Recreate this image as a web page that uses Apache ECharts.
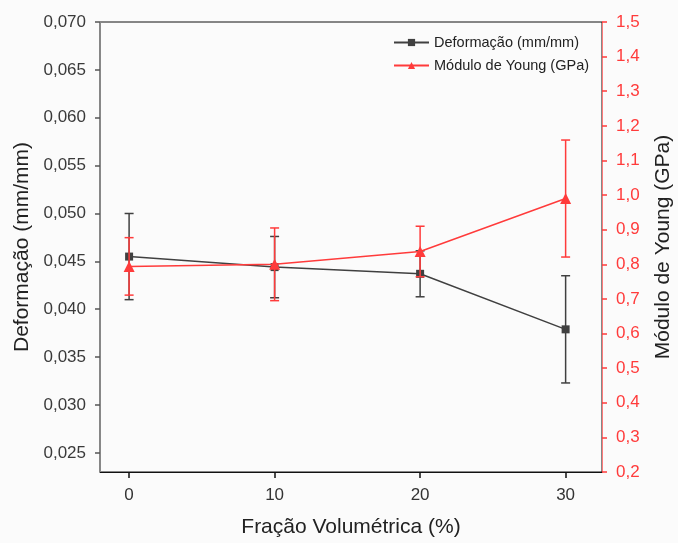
<!DOCTYPE html>
<html>
<head>
<meta charset="utf-8">
<script src="https://cdn.jsdelivr.net/npm/echarts@6/dist/echarts.min.js"></script>
<style>
  html, body { margin: 0; padding: 0; background: #fbfbfb; }
  #chart { width: 678px; height: 543px; }
</style>
</head>
<body>
<div id="chart"></div>
<script>
  let fracao = [0, 10, 20, 30];
  let deformacao = [0.0455, 0.0444, 0.0437, 0.0379];
  let deformacaoErr = [0.0045, 0.0032, 0.0024, 0.0056];
  let modulo = [0.794, 0.800, 0.837, 0.990];
  let moduloErr = [0.083, 0.105, 0.073, 0.169];
  let leftTicks = [0.025, 0.030, 0.035, 0.040, 0.045, 0.050, 0.055, 0.060, 0.065, 0.070];
  let xTicks = [0, 10, 20, 30];

  let black = '#404040';
  let red = '#ff3b3b';
  let font = 'Liberation Sans, Arial, sans-serif';

  function errorItem(color) {
    return function (params, api) {
      let x = api.value(0);
      let lo = api.coord([x, api.value(1)]);
      let hi = api.coord([x, api.value(2)]);
      let w = 4.5;
      let style = { stroke: color, lineWidth: 1.5 };
      return {
        type: 'group',
        children: [
          { type: 'line', shape: { x1: lo[0], y1: lo[1], x2: hi[0], y2: hi[1] }, style: style },
          { type: 'line', shape: { x1: lo[0] - w, y1: lo[1], x2: lo[0] + w, y2: lo[1] }, style: style },
          { type: 'line', shape: { x1: hi[0] - w, y1: hi[1], x2: hi[0] + w, y2: hi[1] }, style: style }
        ]
      };
    };
  }

  let chart = echarts.init(document.getElementById('chart'));
  let option = {
    backgroundColor: '#fbfbfb',
    animation: false,
    textStyle: { fontFamily: font },
    grid: {
      left: 100, right: 76, top: 22, bottom: 71,
      outerBoundsMode: 'none', containLabel: false,
      show: true, borderColor: '#111', borderWidth: 1
    },
    legend: {
      orient: 'vertical',
      left: 393, top: 35, padding: 0,
      itemWidth: 35, itemHeight: 9, itemGap: 8,
      textStyle: { fontSize: 14.5, color: '#222', fontFamily: font },
      data: ['Deformação (mm/mm)', 'Módulo de Young (GPa)']
    },
    xAxis: {
      type: 'value',
      min: -2, max: 32.5,
      name: 'Fração Volumétrica (%)',
      nameLocation: 'middle', nameGap: 45,
      nameTextStyle: { fontSize: 21, color: '#222' },
      axisLine: { onZero: false, lineStyle: { color: '#111' } },
      axisTick: { customValues: xTicks, length: 6, lineStyle: { color: '#111', width: 1.5 } },
      axisLabel: { customValues: xTicks, margin: 15, fontSize: 17, color: '#333' },
      splitLine: { show: false }
    },
    yAxis: [{
      type: 'value',
      min: 0.023, max: 0.070,
      name: 'Deformação (mm/mm)',
      nameLocation: 'middle', nameGap: 62,
      nameTextStyle: { fontSize: 21, color: '#222' },
      axisLine: { show: true, onZero: false, lineStyle: { color: '#888' } },
      axisTick: { show: true, customValues: leftTicks, length: 5, lineStyle: { color: '#555', width: 1.5 } },
      axisLabel: {
        customValues: leftTicks, margin: 14, fontSize: 17, color: '#3a3a3a',
        formatter: function (v) { return v.toFixed(3).replace('.', ','); }
      },
      splitLine: { show: false }
    }, {
      type: 'value',
      min: 0.2, max: 1.5, interval: 0.1,
      name: 'Módulo de Young (GPa)',
      nameLocation: 'middle', nameGap: 51,
      nameTextStyle: { fontSize: 21, color: '#222' },
      axisLine: { show: true, onZero: false, lineStyle: { color: '#ff7a7a' } },
      axisTick: { show: true, length: 5, lineStyle: { color: red, width: 1.5 } },
      axisLabel: {
        margin: 14, fontSize: 17, color: red,
        formatter: function (v) { return v.toFixed(1).replace('.', ','); }
      },
      splitLine: { show: false }
    }],
    series: [{
      name: 'Deformação (mm/mm)',
      type: 'line',
      yAxisIndex: 0,
      data: fracao.map(function (x, i) { return [x, deformacao[i]]; }),
      symbol: 'rect', symbolSize: 8,
      lineStyle: { color: black, width: 1.5 },
      itemStyle: { color: black },
      z: 3
    }, {
      type: 'custom',
      yAxisIndex: 0,
      renderItem: errorItem(black),
      data: fracao.map(function (x, i) {
        return [x, deformacao[i] - deformacaoErr[i], deformacao[i] + deformacaoErr[i]];
      }),
      z: 2
    }, {
      name: 'Módulo de Young (GPa)',
      type: 'line',
      yAxisIndex: 1,
      data: fracao.map(function (x, i) { return [x, modulo[i]]; }),
      symbol: 'triangle', symbolSize: 11,
      lineStyle: { color: red, width: 1.5 },
      itemStyle: { color: red },
      z: 5
    }, {
      type: 'custom',
      yAxisIndex: 1,
      renderItem: errorItem(red),
      data: fracao.map(function (x, i) {
        return [x, modulo[i] - moduloErr[i], modulo[i] + moduloErr[i]];
      }),
      z: 4
    }]
  };
  chart.setOption(option, true);
</script>
</body>
</html>
